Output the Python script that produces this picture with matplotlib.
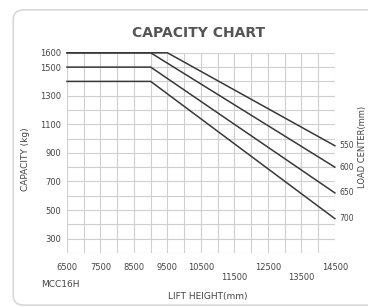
import matplotlib
matplotlib.use("Agg")
import matplotlib.pyplot as plt
from matplotlib.patches import FancyBboxPatch
import numpy as np

# data
load_centers = ["550", "600", "650", "700"]
x_start = 6500
x_end = 14500
knee_x = [9500, 9000, 9000, 9000]
max_cap = [1600, 1600, 1500, 1400]
end_cap = [950, 800, 620, 440]

xtick_vals = [6500, 7500, 8500, 9500, 10500, 11500, 12500, 13500, 14500]
xtick_low = [11500, 13500]  # labels dropped to a second row
ytick_vals = [1600, 1500, 1300, 1100, 900, 700, 500, 300]

txt = "#444444"
plt.rcParams["font.family"] = ["DejaVu Sans"]

fig = plt.figure(figsize=(3.68, 3.07), dpi=100)
fig.patch.set_facecolor("white")

# rounded frame round the whole card
frame = FancyBboxPatch((0.036, 0.006), 1.0, 0.962, boxstyle="round,pad=0,rounding_size=0.03",
                       transform=fig.transFigure, facecolor="none", edgecolor="#d8d8d8",
                       linewidth=1.2, zorder=-10)
fig.patches.append(frame)

ax = fig.add_axes([0.182, 0.176, 0.728, 0.652])
ax.patch.set_alpha(0)
ax.set_xlim(x_start, x_end)
ax.set_ylim(200, 1600)

xlabels = []
for v in xtick_vals:
    if v in xtick_low:
        xlabels.append("\n" + str(v))
    else:
        xlabels.append(str(v))
ax.set_xticks(xtick_vals)
ax.set_xticklabels(xlabels, linespacing=1.15)
ax.set_xticks(np.arange(x_start, x_end + 1, 500), minor=True)
ax.set_yticks(ytick_vals)
ax.set_yticks(np.arange(200, 1601, 100), minor=True)
ax.grid(True, which="both", color="#cfcfcf", linewidth=0.8)
ax.tick_params(which="both", length=0, labelsize=6, colors=txt)
ax.tick_params(axis="y", pad=4)
ax.tick_params(axis="x", pad=7)

for s in ax.spines.values():
    s.set_visible(False)
ax.set_axisbelow(True)

for i in range(len(load_centers)):
    xs = [x_start, knee_x[i], x_end]
    ys = [max_cap[i], max_cap[i], end_cap[i]]
    ax.plot(xs, ys, color="#383838", linewidth=1.1, clip_on=False)
    ax.annotate(load_centers[i], (x_end, end_cap[i]), xytext=(3, 0),
                textcoords="offset points", va="center", ha="left",
                fontsize=5.5, color=txt)

fig.text(0.54, 0.893, "CAPACITY CHART", ha="center", va="center",
         fontsize=10, fontweight="bold", color="#555555")
fig.text(0.068, 0.48, "CAPACITY (kg)", rotation=90, ha="center", va="center",
         fontsize=6.5, color=txt)
fig.text(0.565, 0.033, "LIFT HEIGHT(mm)", ha="center", va="center",
         fontsize=6.5, color=txt)
fig.text(0.163, 0.072, "MCC16H", ha="center", va="center",
         fontsize=6.5, color=txt)
fig.text(0.986, 0.52, "LOAD CENTER(mm)", rotation=90, ha="center", va="center",
         fontsize=6, color=txt)

fig.savefig("out.png", dpi=100, facecolor="white")
